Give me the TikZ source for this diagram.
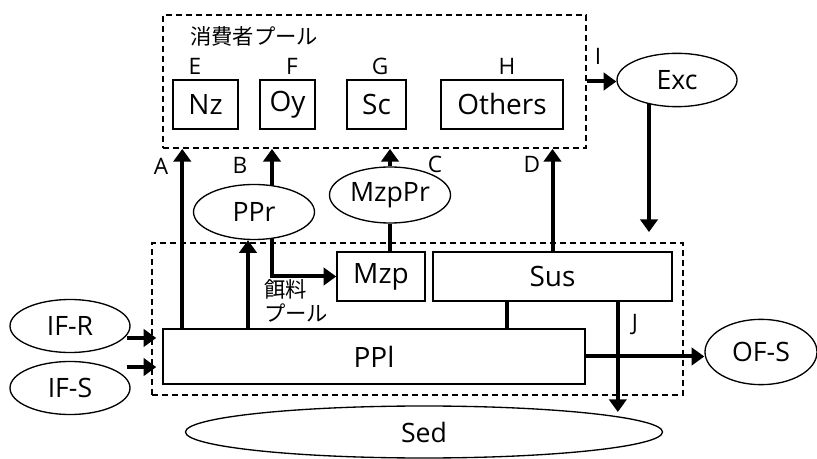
\documentclass[tikz,border=0pt]{standalone}
\usepackage{fontspec}
\setmainfont{Open Sans}
\newfontfamily\cjk{Noto Sans CJK JP}
\usetikzlibrary{shapes.geometric,arrows.meta,backgrounds}
\begin{document}
\begin{tikzpicture}[x=0.75pt,y=-0.75pt,
  box/.style={draw,line width=1.1pt,fill=white,minimum height=36.75pt,font=\fontsize{21}{24}\selectfont,inner sep=1pt},
  oval/.style={draw,ellipse,line width=1pt,fill=white,font=\fontsize{20}{23}\selectfont,inner sep=0pt},
  pool/.style={draw,line width=1.4pt,dash pattern=on 4.5pt off 3pt},
  arr/.style={line width=3pt,-{Triangle[width=13pt,length=9.5pt]}},
  link/.style={line width=3pt},
  lab/.style={font=\fontsize{17}{19}\selectfont,inner sep=0pt}]
\useasboundingbox (0,0) rectangle (817,459);
% pools
\node[pool,minimum width=317.25pt,minimum height=99.75pt] (cpool) at (374.5,81.5) {};
\node[pool,minimum width=398.25pt,minimum height=114pt] (fpool) at (417.5,319) {};
% boxes
\node[box,minimum width=48.75pt] (Nz) at (205.5,104.5) {Nz};
\node[box,minimum width=41.25pt] (Oy) at (287.5,104.5) {Oy};
\node[box,minimum width=44.25pt] (Sc) at (376.5,104.5) {Sc};
\node[box,minimum width=91.5pt] (Oth) at (502,104.5) {Others};
\node[box,minimum width=66pt] (Mzp) at (381,276.5) {Mzp};
\node[box,minimum width=179.25pt] (Sus) at (552.5,276.5) {Sus};
\node[box,minimum width=316.5pt,minimum height=41.25pt] (PPl) at (374,356.5) {PPl};
% ovals
\node[oval,minimum width=90.75pt,minimum height=41.25pt] (PPr) at (254,212) {PPr};
\node[oval,minimum width=90.75pt,minimum height=42pt] (MzpPr) at (390,195) {MzpPr};
\node[oval,minimum width=90pt,minimum height=40pt] (Exc) at (677,80) {Exc};
\node[oval,minimum width=90pt,minimum height=39.75pt] (IFR) at (70,326) {IF-R};
\node[oval,minimum width=90pt,minimum height=39.75pt] (IFS) at (70,388) {IF-S};
\node[oval,minimum width=84pt,minimum height=49pt] (OFS) at (761,352) {OF-S};
\node[oval,minimum width=357.75pt,minimum height=39pt] (Sed) at (424,432) {Sed};
% labels
\node[lab] (lE) at (195,66) {E};
\node[lab] (lF) at (292,66) {F};
\node[lab] (lG) at (380,66) {G};
\node[lab] (lH) at (507,66) {H};
\node[lab] (lA) at (161,166) {A};
\node[lab] (lB) at (240,165) {B};
\node[lab] (lC) at (435,164) {C};
\node[lab] (lD) at (532,164) {D};
\node[lab] (lI) at (598,56) {I};
\node[lab] (lJ) at (635,325) {J};
\node[font=\cjk\fontsize{16}{19}\selectfont,inner sep=0pt] (ct) at (254,36) {消費者プール};
\node[font=\cjk\fontsize{16}{17.5}\selectfont,align=left,anchor=west,inner sep=0pt] (ft) at (264,301) {餌料\\プール};
% connectors
\begin{pgfonlayer}{background}
\coordinate (Abot) at ([xshift=15pt]PPl.north west);
\draw[arr] (Abot) -- (Abot |- cpool.south);
\coordinate (Bc) at ([xshift=13.5pt]PPr.center);
\draw[arr] (Bc) -- (Bc |- cpool.south);
\draw[arr] (Bc) |- (Mzp.west);
\coordinate (Pup) at ([xshift=-4.5pt]PPr.south);
\draw[arr] (Pup |- PPl.north) -- (Pup);
\draw[arr] (MzpPr.north) -- (MzpPr.north |- cpool.south);
\draw[link] (MzpPr.south) -- (MzpPr.south |- Mzp.north);
\draw[arr] (Sus.north) -- (Sus.north |- cpool.south);
\draw[arr] (cpool.east) -- (cpool.east -| Exc.west);
\coordinate (Xc) at ([xshift=-21pt]Exc.center);
\coordinate (Xe0) at (Xc |- fpool.north);
\coordinate (Xe) at ([yshift=7.5pt]Xe0);
\draw[arr] (Xc) -- (Xe);
\coordinate (Jt) at ([xshift=49pt]Sus.south);
\coordinate (Je0) at (Jt |- Sed.north);
\coordinate (Je) at ([yshift=-5pt]Je0);
\draw[arr] (Jt) -- (Je);
\coordinate (Sl) at ([xshift=-34pt]Sus.south);
\draw[link] (Sl) -- (Sl |- PPl.north);
\draw[arr] (PPl.east) -- (PPl.east -| OFS.west);
\coordinate (Rt) at ([xshift=-4.5pt,yshift=13.9pt]PPl.west);
\coordinate (Rs0) at (IFR.east |- Rt);
\draw[arr] ([xshift=-3pt]Rs0) -- (Rt);
\coordinate (St) at ([xshift=-4.5pt,yshift=-7.9pt]PPl.west);
\coordinate (Ss0) at (IFS.east |- St);
\draw[arr] ([xshift=-3pt]Ss0) -- (St);
\end{pgfonlayer}
\end{tikzpicture}
\end{document}
